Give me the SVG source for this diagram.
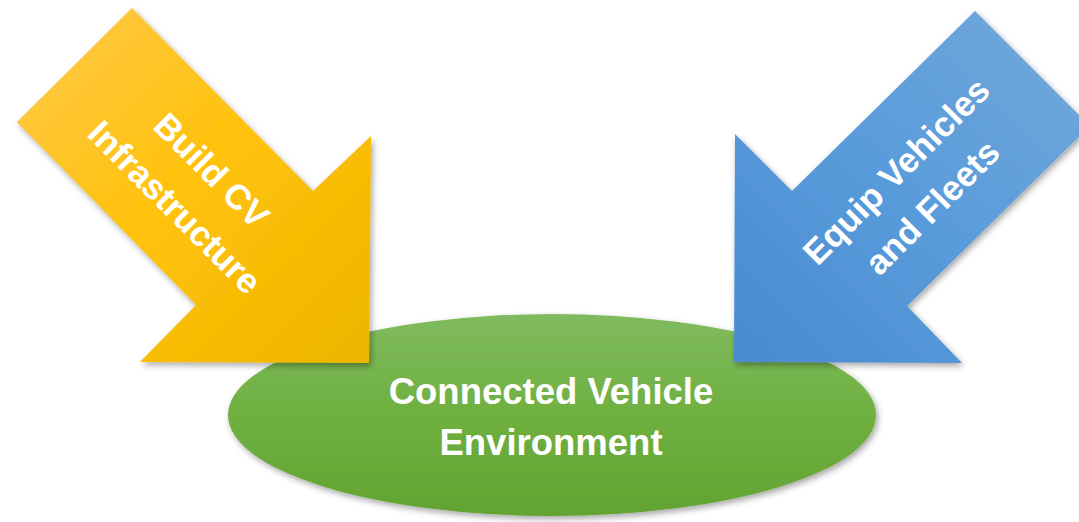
<svg xmlns="http://www.w3.org/2000/svg" width="1079" height="522" viewBox="0 0 1079 522">
<defs>
<linearGradient id="gYellow" x1="0" y1="0" x2="1" y2="1">
<stop offset="0" stop-color="#FFC84C"/>
<stop offset="0.5" stop-color="#FFC20A"/>
<stop offset="1" stop-color="#EDB500"/>
</linearGradient>
<linearGradient id="gBlue" x1="1" y1="0" x2="0" y2="1">
<stop offset="0" stop-color="#74A8DA"/>
<stop offset="0.5" stop-color="#5A9CDB"/>
<stop offset="1" stop-color="#488BCF"/>
</linearGradient>
<linearGradient id="gGreen" x1="0" y1="0" x2="0" y2="1">
<stop offset="0" stop-color="#80BA60"/>
<stop offset="0.5" stop-color="#6FB040"/>
<stop offset="1" stop-color="#62A332"/>
</linearGradient>
<filter id="shadow" x="-10%" y="-10%" width="125%" height="125%">
<feDropShadow dx="2" dy="3" stdDeviation="3" flood-color="#000" flood-opacity="0.35"/>
</filter>
</defs>
<style>
.lbl { font-family: "Liberation Sans", Arial, sans-serif; font-weight: bold; fill: #FFFFFF; text-anchor: middle; }
</style>
<rect width="1079" height="522" fill="#FFFFFF"/>
<g id="environment">
<ellipse cx="552" cy="415" rx="324" ry="101" fill="url(#gGreen)" filter="url(#shadow)"/>
<text class="lbl" x="551" y="404" font-size="36.5">Connected Vehicle</text>
<text class="lbl" x="551" y="455" font-size="36.5">Environment</text>
</g>
<g id="build-cv-infrastructure">
<polygon points="132,8 313,191 371,136 369,363 140,362 196,305 17,122" fill="url(#gYellow)" filter="url(#shadow)"/>
<g transform="translate(191,191) rotate(45)">
<text class="lbl" x="0" y="-17" font-size="35">Build CV</text>
<text class="lbl" x="0" y="35" font-size="35">Infrastructure</text>
</g>
</g>
<g id="equip-vehicles-fleets">
<polygon points="975,11 1090,126 907,306 962,363 734,362 735,134 792,191" fill="url(#gBlue)" filter="url(#shadow)"/>
<g transform="translate(921,196) rotate(-45)">
<text class="lbl" x="0" y="-23" font-size="35">Equip Vehicles</text>
<text class="lbl" x="0" y="28" font-size="35">and Fleets</text>
</g>
</g>
<g id="connectors"/>
</svg>
